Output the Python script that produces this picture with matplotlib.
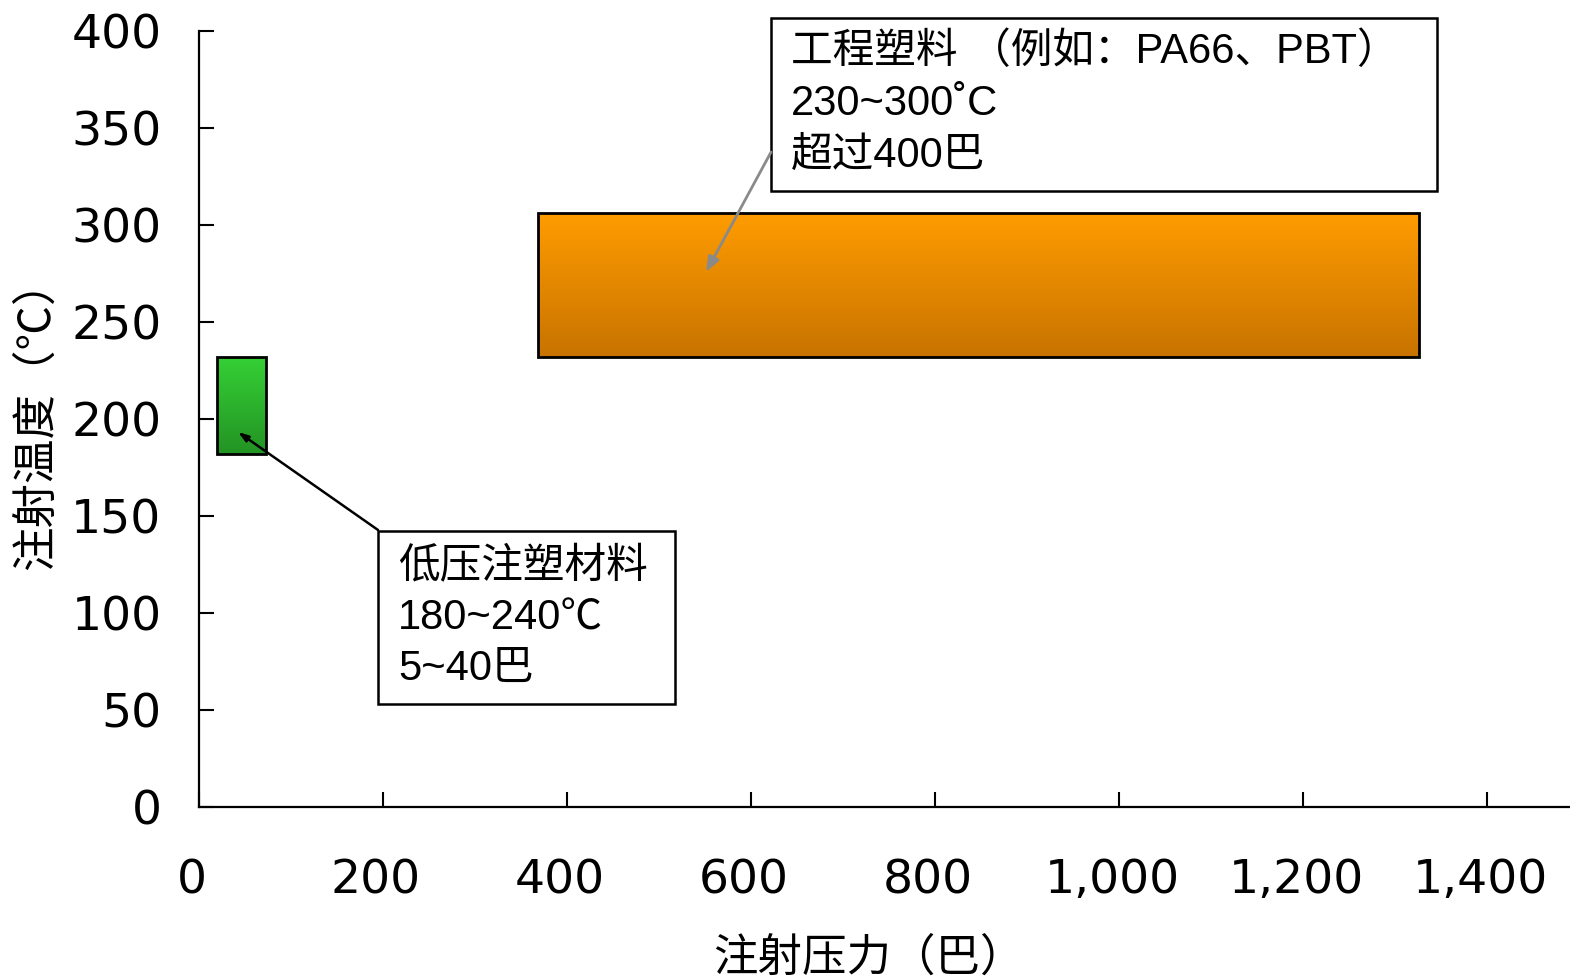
import numpy as np
import matplotlib
matplotlib.use("Agg")
import matplotlib.pyplot as plt
from matplotlib.patches import Rectangle
from matplotlib.colors import LinearSegmentedColormap
from matplotlib.ticker import FuncFormatter
from matplotlib.transforms import ScaledTranslation

# Material windows: injection pressure range (bar) and melt temperature range (°C)
materials = ["低压注塑材料", "工程塑料"]
pressure_lo = [20, 368]
pressure_hi = [73, 1326]
temp_lo = [182, 232]
temp_hi = [232, 306]
grad_top = ["#35d035", "#ff9c00"]
grad_bottom = ["#239323", "#c87300"]

x_ticks = [0, 200, 400, 600, 800, 1000, 1200, 1400]
y_ticks = [0, 50, 100, 150, 200, 250, 300, 350, 400]

note_lines = [
    ["工程塑料 （例如：PA66、PBT）", "230~300˚C", "超过400巴"],
    ["低压注塑材料", "180~240℃", "5~40巴"],
]

W, H = 1570, 980
fig = plt.figure(figsize=(W / 100, H / 100), dpi=100)
left, bottom, top = 199, 807, 31
ax = fig.add_axes([left / W, (H - bottom) / H, 1 - left / W, (bottom - top) / H])
ax.set_xlim(0, 1490)
ax.set_ylim(0, 400)

for s in ["top", "right"]:
    ax.spines[s].set_visible(False)
for s in ["left", "bottom"]:
    ax.spines[s].set_linewidth(1.6)

ax.set_xticks(x_ticks)
ax.set_yticks(y_ticks)
ax.xaxis.set_major_formatter(FuncFormatter(lambda v, p: f"{int(v):,}"))
ax.tick_params(axis="both", direction="in", length=11, width=1.5, labelsize=34,
               colors="black")
ax.tick_params(axis="y", pad=27)
ax.tick_params(axis="x", pad=37)
shift = ScaledTranslation(-7 / 100, 0, fig.dpi_scale_trans)
for lab in ax.get_xticklabels():
    lab.set_family("DejaVu Sans")
    lab.set_transform(lab.get_transform() + shift)
for lab in ax.get_yticklabels():
    lab.set_family("DejaVu Sans")

# Gradient-filled range boxes
for x0, x1, y0, y1, ct, cb in zip(pressure_lo, pressure_hi, temp_lo, temp_hi,
                                  grad_top, grad_bottom):
    cmap = LinearSegmentedColormap.from_list("g", [cb, ct])
    grad = np.linspace(0, 1, 256).reshape(-1, 1)
    ax.imshow(grad, cmap=cmap, origin="lower", extent=[x0, x1, y0, y1],
              aspect="auto", zorder=2)
    ax.add_patch(Rectangle((x0, y0), x1 - x0, y1 - y0, fill=False,
                           edgecolor="black", linewidth=2, zorder=3))

# pixel -> data helpers for callout layout
sx = (1487 - 199) / 1400.0
sy = (807 - 31) / 400.0
def px(x):
    return (x - 199) / sx
def py(y):
    return (807 - y) / sy

label_font = ["Liberation Sans", "Noto Sans CJK SC"]

# Callout boxes
boxes = [(771, 18, 1437, 191), (378, 531, 675, 704)]
text_pos = [(791, [52, 104, 156]), (398, [567, 619, 669])]
for (bx0, by0, bx1, by1), (tx, tys), lines in zip(boxes, text_pos, note_lines):
    ax.add_patch(Rectangle((px(bx0), py(by1)), px(bx1) - px(bx0), py(by0) - py(by1),
                           facecolor="white", edgecolor="black", linewidth=1.8,
                           clip_on=False, zorder=4))
    for ty, line in zip(tys, lines):
        ax.text(px(tx), py(ty), line, family=label_font, fontsize=30,
                va="center", ha="left", zorder=5, clip_on=False)

# Leader arrows
ax.annotate("", xy=(px(706), py(272)), xytext=(px(771), py(152)),
            arrowprops=dict(arrowstyle="-|>,head_length=0.9,head_width=0.35",
                            color="#8a8a8a", lw=2, shrinkA=0, shrinkB=0),
            zorder=5, annotation_clip=False)
ax.annotate("", xy=(px(238), py(432)), xytext=(px(378), py(530)),
            arrowprops=dict(arrowstyle="-|>,head_length=0.6,head_width=0.2",
                            color="black", lw=1.8, shrinkA=0, shrinkB=0),
            zorder=5, annotation_clip=False)

fig.text(869 / W, 1 - 958 / H, "注射压力（巴）", family=["Noto Sans CJK SC"],
         fontsize=32, ha="center", va="center")
fig.text(36 / W, 1 - 414 / H, "注射温度（℃）", family=["Noto Sans CJK SC"],
         fontsize=32, ha="center", va="center", rotation=90)

fig.savefig("out.png", dpi=100, facecolor="white")
